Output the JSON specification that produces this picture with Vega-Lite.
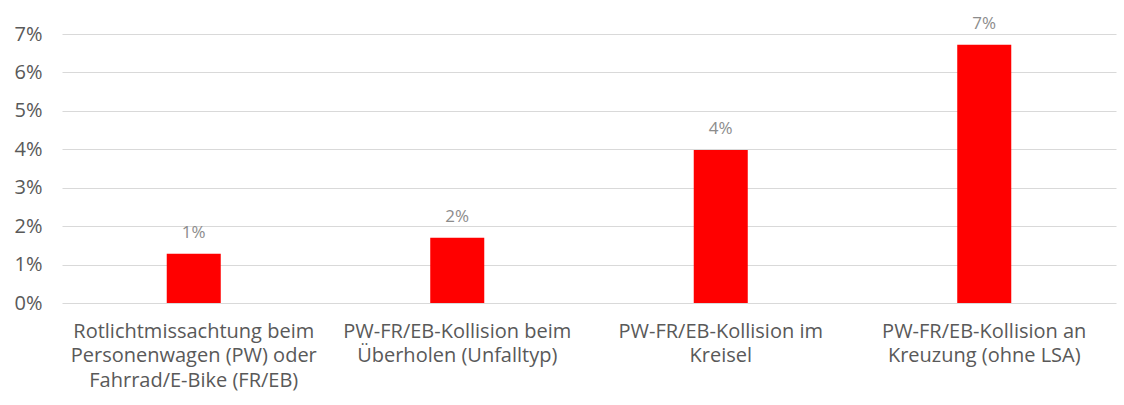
{
  "$schema": "https://vega.github.io/schema/vega-lite/v6.json",
  "autosize": "none",
  "width": 1054,
  "height": 269,
  "padding": {"left": 62, "top": 34, "right": 8, "bottom": 102},
  "background": "white",
  "data": {
    "values": [
      {"kategorie": "Rotlichtmissachtung beim|Personenwagen (PW) oder|Fahrrad/E-Bike (FR/EB)", "anteil": 0.0128},
      {"kategorie": "PW-FR/EB-Kollision beim|Überholen (Unfalltyp)", "anteil": 0.0170},
      {"kategorie": "PW-FR/EB-Kollision im|Kreisel", "anteil": 0.0398},
      {"kategorie": "PW-FR/EB-Kollision an|Kreuzung (ohne LSA)", "anteil": 0.0672}
    ]
  },
  "encoding": {
    "x": {
      "field": "kategorie",
      "type": "nominal",
      "sort": null,
      "scale": {"paddingInner": 0.795, "paddingOuter": 0.3975},
      "axis": {
        "title": null,
        "labelAngle": 0,
        "labelExpr": "split(datum.label, '|')",
        "labelFont": "Open Sans",
        "labelFontSize": 20,
        "labelColor": "#595959",
        "labelLineHeight": 24.5,
        "labelPadding": 18,
        "labelLimit": 400,
        "ticks": false,
        "domain": false
      }
    },
    "y": {
      "field": "anteil",
      "type": "quantitative",
      "scale": {"domain": [0, 0.07]},
      "axis": {
        "title": null,
        "values": [0, 0.01, 0.02, 0.03, 0.04, 0.05, 0.06, 0.07],
        "format": ".0%",
        "labelFont": "Open Sans",
        "labelFontSize": 20,
        "labelColor": "#595959",
        "labelPadding": 20,
        "ticks": false,
        "domain": false,
        "gridColor": "#d9d9d9",
        "gridWidth": 1
      }
    }
  },
  "layer": [
    {"mark": {"type": "bar", "color": "#ff0000"}},
    {
      "mark": {"type": "text", "dy": -16, "baseline": "alphabetic", "font": "Open Sans", "fontSize": 17, "color": "#8c8c8c"},
      "encoding": {"text": {"field": "anteil", "type": "quantitative", "format": ".0%"}}
    }
  ],
  "config": {"view": {"stroke": null}}
}
